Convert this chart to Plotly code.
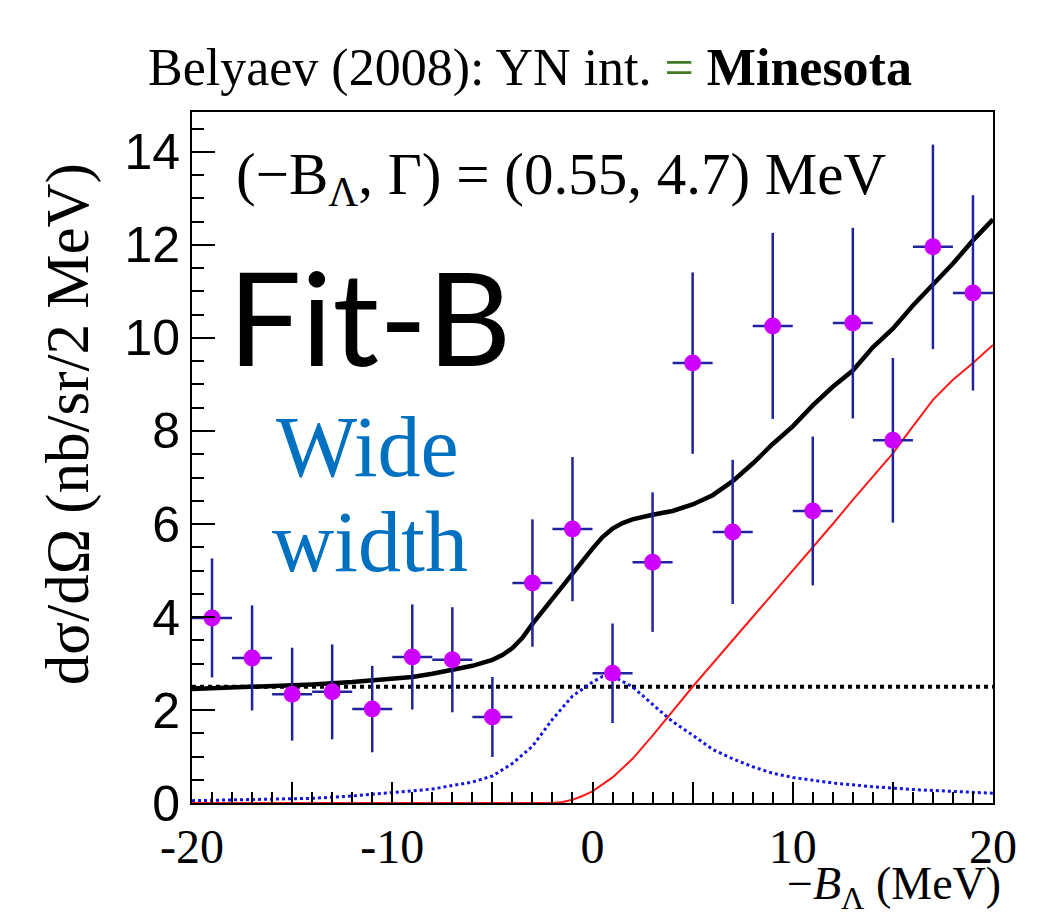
import plotly.graph_objects as go

# ---- data points (bin centres, 2 MeV bins) ----
x_pts = [-19, -17, -15, -13, -11, -9, -7, -5, -3, -1, 1, 3, 5, 7, 9, 11, 13, 15, 17, 19]
y_pts = [3.98, 3.12, 2.34, 2.39, 2.02, 3.14, 3.08, 1.85, 4.73, 5.89,
         2.79, 5.18, 9.46, 5.83, 10.26, 6.28, 10.32, 7.80, 11.96, 10.97]
y_err = [1.28, 1.13, 1.00, 1.02, 0.93, 1.13, 1.13, 0.86, 1.37, 1.55,
         1.07, 1.50, 1.95, 1.55, 2.00, 1.60, 2.05, 1.77, 2.20, 2.10]
x_halfbin = [1.0] * len(x_pts)

# ---- total fit (black) ----
tot_x = [-20, -18, -16, -14, -12, -10, -9, -8, -7, -6, -5, -4.5, -4, -3.5, -3, -2.5, -2, -1.5,
         -1, -0.5, 0, 0.5, 1, 1.5, 2, 3, 4, 5, 6, 7, 8, 9, 10, 11, 12, 13, 14, 15, 16, 17,
         18, 19, 20]
tot_y = [2.45, 2.48, 2.52, 2.55, 2.60, 2.66, 2.71, 2.78, 2.86, 2.95, 3.08, 3.18, 3.33, 3.55,
         3.85, 4.12, 4.40, 4.68, 4.95, 5.22, 5.47, 5.72, 5.90, 6.02, 6.10, 6.20, 6.28, 6.42,
         6.62, 6.92, 7.30, 7.72, 8.10, 8.55, 8.95, 9.30, 9.80, 10.20, 10.70, 11.15, 11.60,
         12.10, 12.55]

# ---- background (black dotted) ----
bg_x = [-20, 20]
bg_y = [2.5, 2.5]

# ---- resonance component (blue dotted) ----
res_x = [-20, -18, -16, -14, -12, -10, -8, -6, -5, -4, -3, -2, -1, 0, 0.5, 1, 2, 3, 4, 5, 6,
         7, 8, 9, 10, 12, 14, 16, 18, 20]
res_y = [0.05, 0.07, 0.08, 0.10, 0.15, 0.22, 0.30, 0.45, 0.58, 0.85, 1.22, 1.80, 2.30, 2.60,
         2.72, 2.73, 2.50, 2.12, 1.75, 1.46, 1.15, 0.95, 0.78, 0.64, 0.55, 0.43, 0.35, 0.29,
         0.25, 0.21]

# ---- quasi-free component (red) ----
qf_x = [-20, -2, -1.5, -1, -0.5, 0, 1, 2, 3, 4, 5, 6, 7, 8, 9, 10, 11, 12, 13, 14, 15, 16,
        17, 18, 19, 20]
qf_y = [0, 0, 0.02, 0.07, 0.15, 0.25, 0.55, 0.95, 1.45, 1.98, 2.50, 3.00, 3.50, 4.00, 4.50,
        5.00, 5.48, 6.00, 6.52, 7.02, 7.52, 8.10, 8.67, 9.10, 9.46, 9.85]

x_major = [-20, -15, -10, -5, 0, 5, 10, 15, 20]
x_labels = ['-20', ' ', '-10', ' ', '0', ' ', '10', ' ', '20']
y_major = [0, 2, 4, 6, 8, 10, 12, 14]

SERIF = "Liberation Serif, Times New Roman, serif"
SANS = "Liberation Sans, Arial, sans-serif"

fig = go.Figure()
fig.add_trace(go.Scatter(x=bg_x, y=bg_y, mode='lines',
                         line=dict(color='black', width=4, dash='dot'), hoverinfo='skip'))
fig.add_trace(go.Scatter(x=res_x, y=res_y, mode='lines',
                         line=dict(color='#1414e6', width=3, dash='dot'), hoverinfo='skip'))
fig.add_trace(go.Scatter(x=qf_x, y=qf_y, mode='lines',
                         line=dict(color='#ff1a1a', width=2), hoverinfo='skip'))
fig.add_trace(go.Scatter(x=tot_x, y=tot_y, mode='lines',
                         line=dict(color='black', width=4.5), hoverinfo='skip'))
fig.add_trace(go.Scatter(
    x=x_pts, y=y_pts, mode='markers',
    marker=dict(symbol='circle', size=17, color='#cc00ff'),
    error_y=dict(type='data', array=y_err, color='#22229c', thickness=2.5, width=0),
    error_x=dict(type='data', array=x_halfbin, color='#22229c', thickness=2.5, width=0),
))

fig.update_layout(
    width=1042, height=919,
    margin=dict(l=192, r=49, t=112, b=116),
    paper_bgcolor='white', plot_bgcolor='white',
    showlegend=False,
    xaxis=dict(range=[-20, 20], showgrid=False, zeroline=False,
               showline=True, mirror=True, linecolor='black', linewidth=2,
               ticks='inside', ticklen=21, tickwidth=2, tickcolor='black',
               tickmode='array', tickvals=x_major, ticktext=x_labels,
               tickfont=dict(family=SERIF, size=48, color='black'),
               minor=dict(ticks='inside', ticklen=11, tickwidth=1.5, tickcolor='black',
                          tickmode='linear', tick0=-20, dtick=1, showgrid=False)),
    yaxis=dict(range=[0, 14.86], showgrid=False, zeroline=False,
               showline=True, mirror=True, linecolor='black', linewidth=2,
               ticks='inside', ticklen=23, tickwidth=2, tickcolor='black',
               tickmode='array', tickvals=y_major,
               tickfont=dict(family=SANS, size=50, color='black'),
               minor=dict(ticks='inside', ticklen=12, tickwidth=1.5, tickcolor='black',
                          tickmode='linear', tick0=0, dtick=0.5, showgrid=False)),
)

annotations = [
    dict(text="Belyaev (2008): YN int. <span style='color:#3f7a25'>=</span> <b>Minesota</b>",
         x=0.422, y=1.064, xref='paper', yref='paper', xanchor='center', yanchor='middle',
         showarrow=False, font=dict(family=SERIF, size=52, color='black')),
    dict(text="(\u2212B<sub>\u039b</sub>, \u0393) = (0.55, 4.7) MeV",
         x=0.052, y=0.905, xref='paper', yref='paper', xanchor='left', yanchor='middle',
         showarrow=False, font=dict(family=SERIF, size=59, color='black')),
    dict(text="Fit-B",
         x=0.042, y=0.705, xref='paper', yref='paper', xanchor='left', yanchor='middle',
         showarrow=False, font=dict(family="Lato, Open Sans, sans-serif", size=130, color='black')),
    dict(text="Wide",
         x=0.2185, y=0.515, xref='paper', yref='paper', xanchor='center', yanchor='middle',
         showarrow=False, font=dict(family=SERIF, size=86, color='#0070c0')),
    dict(text="width",
         x=0.222, y=0.378, xref='paper', yref='paper', xanchor='center', yanchor='middle',
         showarrow=False, font=dict(family=SERIF, size=86, color='#0070c0')),
    dict(text="d\u03c3/d\u03a9 (nb/sr/2 MeV)",
         x=-0.155, y=0.548, xref='paper', yref='paper', xanchor='center', yanchor='middle',
         textangle=-90, showarrow=False, font=dict(family=SERIF, size=61, color='black')),
    dict(text="\u2212<i>B</i><sub>\u039b</sub> (MeV)",
         x=1.012, y=-0.166, xref='paper', yref='paper', xanchor='right', yanchor='bottom',
         showarrow=False, font=dict(family=SERIF, size=46, color='black')),
]
fig.update_layout(annotations=annotations)

fig.write_html("out.html")
